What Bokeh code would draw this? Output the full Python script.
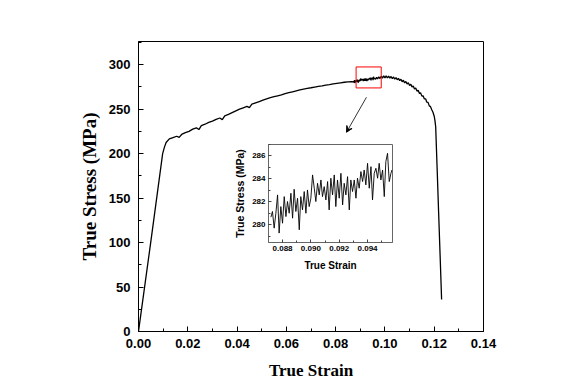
from bokeh.plotting import figure
from bokeh.models import (Range1d, SingleIntervalTicker, Arrow, VeeHead,
                          PrintfTickFormatter, GridBox)
from bokeh.embed import file_html
from bokeh.resources import INLINE

# ---------------- data ----------------
strain_pre = [0.0000, 0.0050, 0.0098, 0.0105, 0.0112, 0.0125,
              0.0140, 0.0155, 0.0165, 0.0175, 0.0190, 0.0205, 0.0220, 0.0235,
              0.0245, 0.0255, 0.0270, 0.0285, 0.0300, 0.0315, 0.0330, 0.0340,
              0.0350, 0.0365, 0.0380, 0.0395, 0.0410, 0.0425, 0.0440, 0.0450,
              0.0460, 0.0475, 0.0490, 0.0505, 0.0520, 0.0535, 0.0550, 0.0565,
              0.0580, 0.0595, 0.0610, 0.0625, 0.0640, 0.0655, 0.0670, 0.0685,
              0.0700, 0.0715, 0.0730, 0.0745, 0.0760, 0.0775, 0.0790, 0.0805,
              0.0820, 0.0835, 0.0850, 0.0865]
stress_pre = [0, 101, 200, 207, 212.5, 216.5,
              218, 219.5, 218.3, 221.5, 223.5, 225.0, 227.5, 229.0,
              227.0, 231.5, 233.0, 235.0, 236.5, 238.5, 240.0, 238.2,
              242.5, 244.0, 246.0, 248.0, 250.0, 251.5, 253.0, 251.6,
              255.5, 257.0, 258.5, 260.0, 261.5, 263.0, 264.0, 265.0,
              266.0, 267.5, 268.5, 269.5, 270.5, 271.5, 272.5, 273.3,
              274.0, 274.8, 275.6, 276.2, 277.0, 277.6, 278.4, 279.0,
              279.6, 280.2, 280.6, 281.0]

strain_zoom = [0.08718, 0.08729, 0.08741, 0.08753, 0.08765, 0.08776, 0.08788,
               0.08800, 0.08812, 0.08824, 0.08835, 0.08847, 0.08859, 0.08871,
               0.08882, 0.08894, 0.08906, 0.08918, 0.08929, 0.08941, 0.08953,
               0.08965, 0.08976, 0.08988, 0.09000, 0.09012, 0.09024, 0.09035,
               0.09047, 0.09059, 0.09071, 0.09082, 0.09094, 0.09106, 0.09118,
               0.09129, 0.09141, 0.09153, 0.09165, 0.09176, 0.09188, 0.09200,
               0.09212, 0.09224, 0.09235, 0.09247, 0.09259, 0.09271, 0.09282,
               0.09294, 0.09306, 0.09318, 0.09329, 0.09341, 0.09353, 0.09365,
               0.09376, 0.09388, 0.09400, 0.09412, 0.09424, 0.09435, 0.09447,
               0.09459, 0.09471, 0.09482, 0.09494, 0.09506, 0.09518, 0.09529,
               0.09541, 0.09553, 0.09565, 0.09572]
stress_zoom = [280.67, 281.16, 279.71, 281.01, 282.61, 279.28, 281.59,
               280.14, 282.46, 280.72, 282.03, 281.01, 282.75, 280.58,
               283.10, 281.16, 282.32, 279.57, 282.46, 281.30, 282.90,
               281.01, 283.04, 281.59, 282.32, 284.35, 283.19, 282.03,
               283.62, 282.61, 283.91, 282.46, 283.33, 282.17, 283.77,
               281.30, 284.06, 282.61, 284.35, 281.59, 283.91, 282.32,
               284.49, 281.74, 283.62, 282.61, 284.20, 281.30, 283.91,
               282.90, 283.91, 282.32, 284.06, 283.19, 284.64, 283.77,
               284.78, 283.48, 285.36, 283.19, 285.07, 282.17, 284.49,
               284.93, 284.06, 285.36, 283.91, 284.78, 282.46, 285.51,
               286.23, 283.77, 284.49, 284.78]

strain_post = [0.0962, 0.0966, 0.0970, 0.0975, 0.0980, 0.0985, 0.0990, 0.0995,
               0.1000, 0.1005, 0.1010, 0.1015, 0.1020, 0.1025, 0.1030, 0.1035,
               0.1040, 0.1045, 0.1050, 0.1055, 0.1060, 0.1065, 0.1070, 0.1075,
               0.1080, 0.1085, 0.1090, 0.1095, 0.1100, 0.1105, 0.1110, 0.1115,
               0.1120, 0.1125, 0.1130, 0.1135, 0.1140, 0.1145, 0.1150, 0.1155,
               0.1160, 0.1165, 0.1170, 0.1175, 0.1180, 0.1185, 0.1190, 0.1195,
               0.1200, 0.1203, 0.1206, 0.1212, 0.1218, 0.1224, 0.1230]
stress_post = [283.6, 285.8, 283.9, 286.3, 284.4, 287.0, 284.8, 287.3,
               285.1, 287.4, 285.0, 287.0, 284.8, 286.7, 284.3, 286.1,
               283.7, 285.4, 283.0, 284.6, 282.0, 283.6, 280.8, 282.4,
               279.4, 281.1, 278.2, 279.6, 276.6, 278.0, 274.8, 276.1,
               272.6, 273.8, 270.2, 271.2, 267.6, 268.2, 264.6, 265.0,
               261.4, 261.6, 257.8, 257.6, 253.6, 252.8, 249.2, 246.5,
               242.0, 237.0, 230.0, 182.0, 133.0, 85.0, 36.0]

zoom_box = dict(left=0.0883, right=0.0985, bottom=273.8, top=297.4)
arrow_from = (0.0925, 263.3)
arrow_to = (0.0844, 224.0)

# ---------------- main figure ----------------
TICK_FONT = "Liberation Sans"
LABEL_FONT = "Liberation Serif"
B_LEFT, B_RIGHT, B_TOP, B_BOTTOM = 138, 73, 41, 53

p = figure(width=556, height=384, output_backend="svg", toolbar_location=None,
           x_range=Range1d(0, 0.14), y_range=Range1d(0, 326),
           min_border_left=B_LEFT, min_border_right=B_RIGHT,
           min_border_top=B_TOP, min_border_bottom=B_BOTTOM)
p.xgrid.visible = False
p.ygrid.visible = False
p.outline_line_color = "black"
p.outline_line_width = 1
p.background_fill_color = "white"

p.xaxis.ticker = SingleIntervalTicker(interval=0.02, num_minor_ticks=2)
p.yaxis.ticker = SingleIntervalTicker(interval=50, num_minor_ticks=2)
p.xaxis.formatter = PrintfTickFormatter(format="%.2f")
for ax in (p.xaxis, p.yaxis):
    ax.major_tick_in = 5
    ax.major_tick_out = 0
    ax.minor_tick_in = 3
    ax.minor_tick_out = 0
    ax.axis_line_color = "black"
    ax.major_tick_line_color = "black"
    ax.minor_tick_line_color = "black"
    ax.major_label_text_font = TICK_FONT
    ax.major_label_text_font_style = "bold"
    ax.major_label_text_font_size = "13px"
    ax.major_label_text_color = "black"
    ax.axis_label_text_font = LABEL_FONT
    ax.axis_label_text_font_style = "bold"
    ax.axis_label_text_color = "black"
p.xaxis.axis_label = "True Strain"
p.yaxis.axis_label = "True Stress (MPa)"
p.xaxis.axis_label_text_font_size = "17px"
p.yaxis.axis_label_text_font_size = "19px"
p.xaxis.major_label_standoff = 7
p.yaxis.major_label_standoff = 8
p.xaxis.axis_label_standoff = 10
p.yaxis.axis_label_standoff = 6

strain_all = strain_pre + strain_zoom + strain_post
stress_all = stress_pre + stress_zoom + stress_post
p.line(strain_all, stress_all, line_color="black", line_width=1.3)

p.quad(left=[zoom_box["left"]], right=[zoom_box["right"]],
       bottom=[zoom_box["bottom"]], top=[zoom_box["top"]],
       fill_alpha=0, line_color="red", line_width=1)
p.add_layout(Arrow(end=VeeHead(size=6, line_color="black", line_width=1),
                   x_start=arrow_from[0], y_start=arrow_from[1],
                   x_end=arrow_to[0], y_end=arrow_to[1],
                   line_color="black", line_width=0.8))

# ---------------- inset ----------------
# borders equal to the main figure's (grid layouts align plot frames);
# the host is shifted so that the inset frame lands at its place
INSET_FRAME_W, INSET_FRAME_H = 124, 98
ins = figure(width=B_LEFT + INSET_FRAME_W + B_RIGHT,
             height=B_TOP + INSET_FRAME_H + B_BOTTOM,
             output_backend="svg", toolbar_location=None,
             x_range=Range1d(0.08701, 0.09576), y_range=Range1d(278.46, 287.0),
             min_border_left=B_LEFT, min_border_right=B_RIGHT,
             min_border_top=B_TOP, min_border_bottom=B_BOTTOM,
             margin=(103, 0, 0, 130), align="start")
ins.border_fill_color = None
ins.background_fill_color = "white"
ins.xgrid.visible = False
ins.ygrid.visible = False
ins.outline_line_color = "#666666"
ins.outline_line_width = 1
ins.xaxis.ticker = SingleIntervalTicker(interval=0.002, num_minor_ticks=2)
ins.yaxis.ticker = SingleIntervalTicker(interval=2, num_minor_ticks=2)
ins.xaxis.formatter = PrintfTickFormatter(format="%.3f")
for ax in (ins.xaxis, ins.yaxis):
    ax.major_tick_in = 3
    ax.major_tick_out = 0
    ax.minor_tick_in = 2
    ax.minor_tick_out = 0
    ax.axis_line_color = "#666666"
    ax.major_tick_line_color = "#444444"
    ax.minor_tick_line_color = "#444444"
    ax.major_label_text_font = TICK_FONT
    ax.major_label_text_font_style = "bold"
    ax.major_label_text_font_size = "8px"
    ax.major_label_text_color = "black"
    ax.axis_label_text_font = TICK_FONT
    ax.axis_label_text_font_style = "bold"
    ax.axis_label_text_color = "black"
    ax.major_label_standoff = 3
ins.xaxis.axis_label = "True Strain"
ins.yaxis.axis_label = "True Stress (MPa)"
ins.xaxis.axis_label_text_font_size = "10px"
ins.yaxis.axis_label_text_font_size = "10.5px"
ins.xaxis.axis_label_standoff = 6
ins.yaxis.axis_label_standoff = 3
ins.line(strain_zoom, stress_zoom, line_color="black", line_width=0.9)

layout = GridBox(children=[(p, 0, 0), (ins, 0, 0)])
open("out.html", "w").write(file_html(layout, INLINE))
